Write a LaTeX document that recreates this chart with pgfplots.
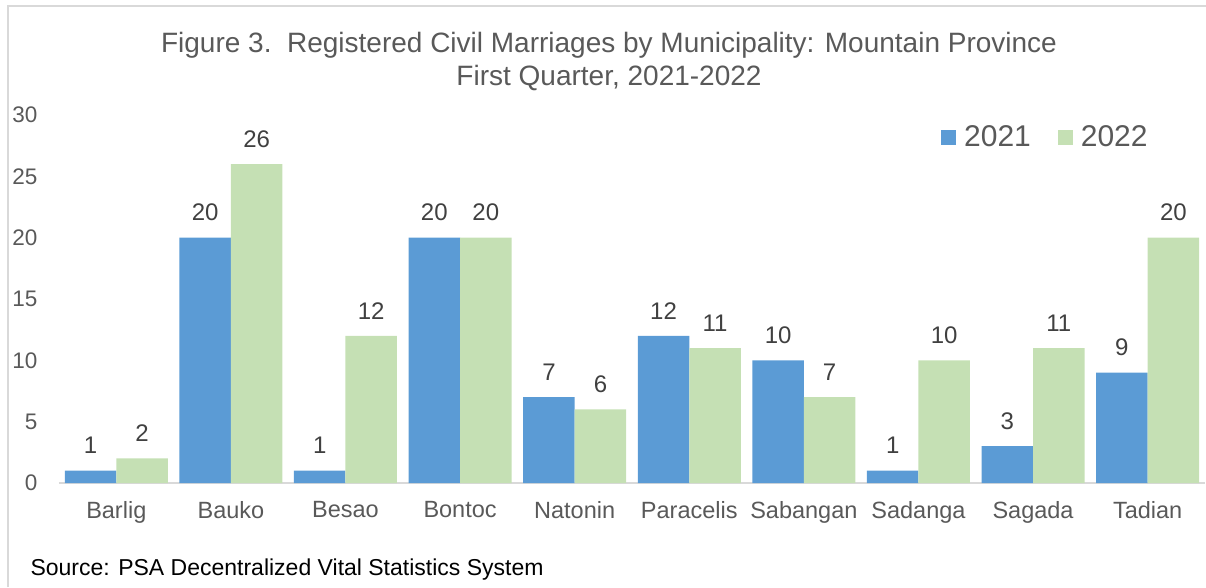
\documentclass[border=0pt]{standalone}
\usepackage{fontspec}
\setmainfont{Liberation Sans}
\usepackage{pgfplots}
\pgfplotsset{compat=1.18}
\definecolor{cblue}{HTML}{5B9BD5}
\definecolor{cgreen}{HTML}{C5E0B4}
\definecolor{txtgray}{HTML}{595959}
\definecolor{lblgray}{HTML}{404040}
\definecolor{linegray}{HTML}{D9D9D9}
\begin{document}
\begin{tikzpicture}[x=1pt,y=1pt]
\path[use as bounding box] (0,0) rectangle (1206,587);
\draw[linegray, line width=2pt] (8,0) -- (8,581) -- (1206,581);
\node[txtgray, font=\fontsize{28}{32}\selectfont, align=center] at (609,542) {Figure 3.\ \ Registered Civil Marriages by Municipality: Mountain Province};
\node[txtgray, font=\fontsize{28}{32}\selectfont, align=center] at (609,509) {First Quarter, 2021-2022};
\node[black, font=\fontsize{23}{28}\selectfont, anchor=west] at (27,17) {Source: PSA Decentralized Vital Statistics System};
\begin{axis}[
  at={(59pt,104pt)}, anchor=south west,
  scale only axis, width=1146pt, height=368pt,
  ybar=0pt, bar width=51.5pt,
  xmin=-0.5, xmax=9.5, ymin=0, ymax=30,
  xtick=data,
  xticklabels={Barlig,Bauko,Besao,Bontoc,Natonin,Paracelis,Sabangan,Sadanga,Sagada,Tadian},
  ytick={0,5,...,30},
  axis x line*=bottom, axis y line*=left,
  x axis line style={linegray, line width=2pt, -},
  y axis line style={draw=none},
  major tick length=0pt,
  /pgf/number format/assume math mode=true,
  xticklabel style={txtgray, font=\fontsize{23.5}{28}\selectfont, yshift=-15pt},
  yticklabel style={txtgray, font=\fontsize{22.5}{27}\selectfont, xshift=-18pt},
  nodes near coords,
  every node near coord/.append style={lblgray, font=\fontsize{24}{28}\selectfont, anchor=center, yshift=25pt},
  legend columns=2,
  legend style={at={(0.767,0.94)}, anchor=west, draw=none, fill=none,
    font=\fontsize{30}{34}\selectfont, text=txtgray,
    /tikz/every even column/.append style={column sep=25pt},
    /tikz/every odd column/.append style={column sep=6pt}},
  legend image code/.code={\fill[#1] (0pt,-7.5pt) rectangle (15pt,7.5pt);},
]
\addplot[fill=cblue, draw=none] coordinates {(0,1) (1,20) (2,1) (3,20) (4,7) (5,12) (6,10) (7,1) (8,3) (9,9)};
\addplot[fill=cgreen, draw=none] coordinates {(0,2) (1,26) (2,12) (3,20) (4,6) (5,11) (6,7) (7,10) (8,11) (9,20)};
\legend{2021,2022}
\end{axis}
\end{tikzpicture}
\end{document}
